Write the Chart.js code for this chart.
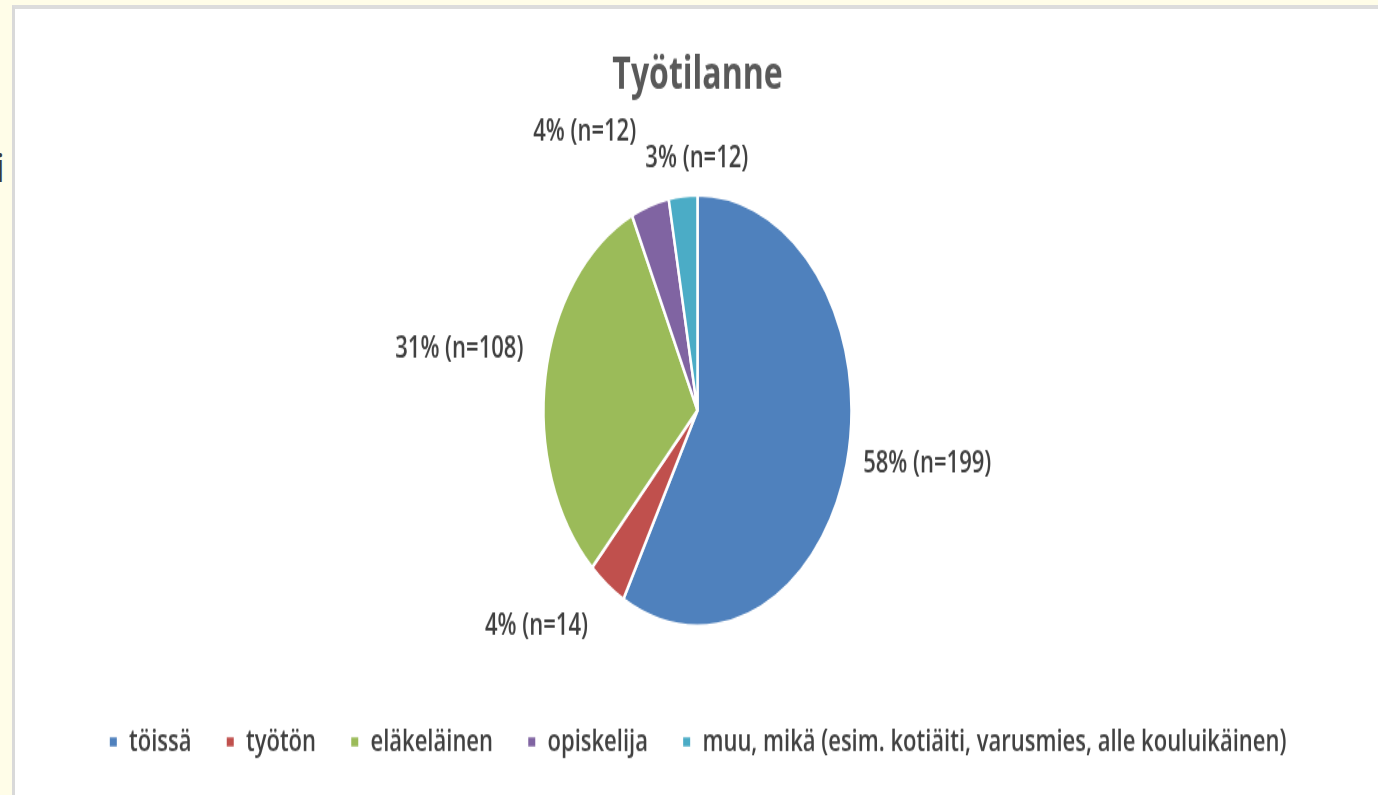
<!DOCTYPE html>
<html>
<head>
<meta charset="utf-8">
<script src="https://cdn.jsdelivr.net/npm/chart.js@4"></script>
<style>
  html, body { margin: 0; padding: 0; }
  body { width: 1378px; height: 795px; background: #fffde8; position: relative; overflow: hidden; font-family: "Open Sans", sans-serif; }
  .panel { position: absolute; left: 12px; top: 5px; right: 0; bottom: 0; background: #fff;
           border-left: 3px solid #d9d9d9; border-top: 4px solid #dcdcdc; }
  .stretch { position: absolute; left: 15px; top: 9px; width: 1363px; height: 561.43px;
             transform: scaleY(1.4); transform-origin: 0 0; }
  .cut { position: absolute; left: -5px; top: 147px; font-size: 40px; color: #3a3a3a; line-height: 1; z-index: 2; }
</style>
</head>
<body>
<div class="panel"></div>
<div class="cut">i</div>
<div class="stretch"><canvas id="chart"></canvas></div>
<script>
// Työtilanne - vastaajien jakauma
const categories = ['töissä', 'työtön', 'eläkeläinen', 'opiskelija', 'muu, mikä (esim. kotiäiti, varusmies, alle kouluikäinen)'];
const percentValues = [58, 4, 31, 4, 3];
const counts = [199, 14, 108, 12, 12];
const sliceColors = ['#4f81bd', '#c0504d', '#9bbb59', '#8064a2', '#4bacc6'];

const textColor = '#404040';

// draws "58% (n=199)" style labels just outside each slice
const outsideLabels = {
    id: 'outsideLabels',
    afterDatasetsDraw(chart, args, opts) {
        const ctx = chart.ctx;
        const meta = chart.getDatasetMeta(0);
        ctx.save();
        ctx.font = opts.font;
        ctx.fillStyle = opts.color;
        ctx.textAlign = 'center';
        ctx.textBaseline = 'middle';
        meta.data.forEach((arc, i) => {
            const p = arc.getProps(['x', 'y', 'startAngle', 'endAngle', 'outerRadius'], true);
            const mid = (p.startAngle + p.endAngle) / 2;
            const ux = Math.cos(mid);
            const uy = Math.sin(mid);
            const text = percentValues[i] + '% (n=' + counts[i] + ')';
            const w = ctx.measureText(text).width;
            const r = p.outerRadius + opts.pad;
            const nudge = opts.nudge[i] || [0, 0];
            const cx = p.x + ux * r + ux * w / 2 + nudge[0];
            const cy = p.y + uy * r + uy * opts.lineHeight / 2 + nudge[1];
            ctx.fillText(text, cx, cy);
        });
        ctx.restore();
    }
};

const ctx = document.getElementById('chart');
new Chart(ctx, {
    type: 'pie',
    data: {
        labels: categories,
        datasets: [{
            data: percentValues,
            backgroundColor: sliceColors,
            borderColor: '#ffffff',
            borderWidth: 2.5,
            radius: 154
        }]
    },
    options: {
        responsive: true,
        maintainAspectRatio: false,
        animation: false,
        layout: { padding: { top: 0, bottom: 16.8, left: 2, right: 0 } },
        plugins: {
            title: {
                display: true,
                text: 'Työtilanne',
                color: '#595959',
                font: { family: 'Open Sans', size: 32, weight: 'bold', lineHeight: 1.2 },
                padding: { top: 28.7, bottom: 27.7 }
            },
            legend: {
                position: 'bottom',
                labels: {
                    color: textColor,
                    font: { family: 'Open Sans', size: 22, weight: '600' },
                    boxWidth: 9.5,
                    boxHeight: 9,
                    padding: 34
                }
            },
            tooltip: { enabled: false },
            outsideLabels: {
                font: '600 22px "Open Sans"',
                color: textColor,
                pad: 14,
                lineHeight: 16,
                nudge: [[5, -6], [-32, 12], [-9, -16], [-45, -32], [20, -5]]
            }
        }
    },
    plugins: [outsideLabels]
});
</script>
</body>
</html>
